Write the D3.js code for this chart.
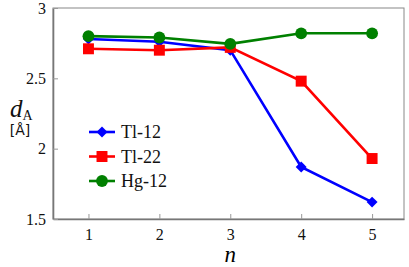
<!DOCTYPE html>
<html>
<head>
<meta charset="utf-8">
<script src="https://cdn.jsdelivr.net/npm/d3@7"></script>
<style>
  body { margin: 0; background: #fff; }
  svg { display: block; }
  svg text, svg tspan { font-family: "Liberation Serif", "Times New Roman", serif !important; }
  svg text.sans { font-family: "DejaVu Sans", sans-serif !important; }
</style>
</head>
<body>
<div id="chart"></div>
<script>
// data
const nValues = [1, 2, 3, 4, 5];
const tl12 = [2.78, 2.76, 2.70, 1.87, 1.62];
const tl22 = [2.71, 2.70, 2.72, 2.48, 1.93];
const hg12 = [2.80, 2.79, 2.745, 2.82, 2.82];
const seriesNames = ['Tl-12', 'Tl-22', 'Hg-12'];
const yTicks = [1.5, 2, 2.5, 3];

const serif = '"Liberation Serif", "Times New Roman", serif';

let width = 409;
let height = 267;

let margin = {
  top: 8,
  bottom: 48,
  left: 53,
  right: 5
};

let svg = d3.select('#chart')
  .append('svg')
  .attr('width', width)
  .attr('height', height);

let xScale = d3.scaleLinear()
  .domain([0.5, 5.45])
  .range([margin.left, width - margin.right]);

let yScale = d3.scaleLinear()
  .domain([1.5, 3])
  .range([height - margin.bottom, margin.top]);

// frame (top and right)
svg.append('rect')
  .attr('x', margin.left)
  .attr('y', margin.top)
  .attr('width', width - margin.right - margin.left)
  .attr('height', height - margin.bottom - margin.top)
  .attr('fill', 'none')
  .attr('stroke', '#888')
  .attr('stroke-width', 1);

// x axis, ticks pointing inward
let xAxis = svg.append('g')
  .attr('transform', `translate(0, ${height - margin.bottom})`)
  .call(d3.axisBottom(xScale).tickValues(nValues).tickFormat(d3.format('d')).tickSizeInner(-5).tickSizeOuter(0).tickPadding(10));

// y axis
let yAxis = svg.append('g')
  .attr('transform', `translate(${margin.left}, 0)`)
  .call(d3.axisLeft(yScale).tickValues(yTicks).tickFormat(d3.format('')).tickSizeInner(-5).tickSizeOuter(0).tickPadding(7));

[xAxis, yAxis].forEach(function(ax) {
  ax.attr('font-family', null).attr('font-size', 16);
  ax.select('.domain').attr('stroke', '#777').attr('stroke-width', 1.6);
  ax.selectAll('.tick line').attr('stroke', '#999');
  ax.selectAll('text')
    .style('font-family', serif, 'important')
    .attr('font-size', 16)
    .attr('fill', '#111');
});

// axis labels
svg.append('text')
  .attr('x', xScale(3))
  .attr('y', 262)
  .attr('text-anchor', 'middle')
  .style('font-family', serif, 'important')
  .attr('font-style', 'italic')
  .attr('font-size', 23)
  .text('n');

let dLabel = svg.append('text')
  .attr('x', 10)
  .attr('y', 117)
  .style('font-family', serif, 'important')
  .attr('font-size', 25)
  .attr('fill', '#111');
dLabel.append('tspan').attr('font-style', 'italic').text('d');
dLabel.append('tspan')
  .attr('font-size', 14)
  .attr('dy', 3)
  .text('A');

svg.append('text')
  .attr('class', 'sans')
  .attr('x', 20)
  .attr('y', 135)
  .attr('text-anchor', 'middle')
  .style('font-family', '"DejaVu Sans", sans-serif', 'important')
  .attr('font-size', 14)
  .attr('fill', '#111')
  .text('[Å]');

const series = [
  { name: seriesNames[0], values: tl12, color: '#0000ff', shape: d3.symbolSquare, size: 60, rot: 45 },
  { name: seriesNames[1], values: tl22, color: '#ff0000', shape: d3.symbolSquare, size: 120, rot: 0 },
  { name: seriesNames[2], values: hg12, color: '#008000', shape: d3.symbolCircle, size: 110, rot: 0 }
];

let line = d3.line()
  .x((d, i) => xScale(nValues[i]))
  .y(d => yScale(d));

// Tl-12, Tl-22, then Hg-12 on top
series.forEach(function(s) {
  svg.append('path')
    .datum(s.values)
    .attr('fill', 'none')
    .attr('stroke', s.color)
    .attr('stroke-width', 2.6)
    .attr('d', line);

  svg.selectAll(null)
    .data(s.values)
    .enter()
    .append('path')
    .attr('d', d3.symbol().type(s.shape).size(s.size))
    .attr('transform', (d, i) => `translate(${xScale(nValues[i])}, ${yScale(d)}) rotate(${s.rot})`)
    .attr('fill', s.color);
});

// legend
let legend = svg.append('g')
  .attr('transform', 'translate(89, 132)');

series.forEach(function(s, i) {
  legend.append('line')
    .attr('x1', 0)
    .attr('x2', 26)
    .attr('y1', i * 24.5)
    .attr('y2', i * 24.5)
    .attr('stroke', s.color)
    .attr('stroke-width', 2.6);

  legend.append('path')
    .attr('d', d3.symbol().type(s.shape).size(s.size))
    .attr('transform', `translate(13, ${i * 24.5}) rotate(${s.rot})`)
    .attr('fill', s.color);

  legend.append('text')
    .attr('x', 32)
    .attr('y', i * 24.5)
    .attr('dy', '0.35em')
    .style('font-family', serif, 'important')
    .attr('font-size', 18)
    .attr('fill', '#111')
    .text(s.name);
});
</script>
</body>
</html>
